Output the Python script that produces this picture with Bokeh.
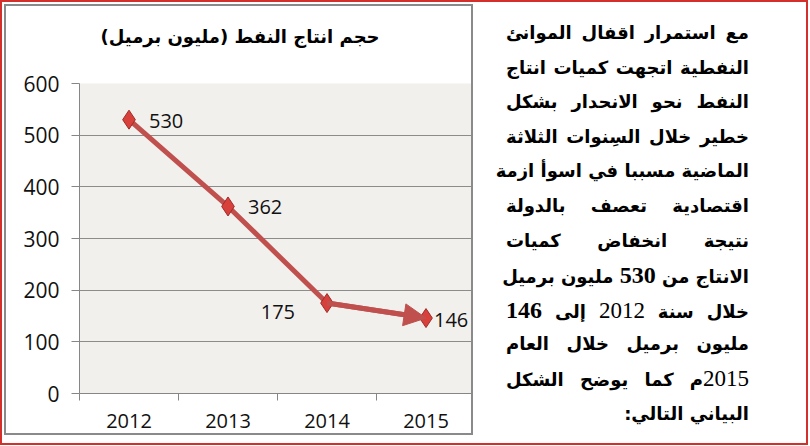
from bokeh.plotting import figure
from bokeh.models import (ColumnDataSource, FixedTicker, Arrow, NormalHead, Div, Range1d, Title)
from bokeh.layouts import row
from bokeh.embed import file_html
from bokeh.resources import INLINE
from bokeh.core.properties import value

# ---------------- data ----------------
years = ["2012", "2013", "2014", "2015"]
production = [530, 362, 175, 146]
y_ticks = [0, 100, 200, 300, 400, 500, 600]
title_text = "حجم انتاج النفط (مليون برميل)"

# label placement (style only)
label_dx = [20, 20, -32, 8]
label_dy = [1, 1, 9, 2]
label_align = ["left", "left", "right", "left"]

LINE_RED = "#c0504d"

xs = [i + 0.5 for i in range(len(years))]
src = ColumnDataSource(dict(
    x=xs, y=production, lab=[str(v) for v in production],
    dx=label_dx, dy=label_dy, al=label_align))

p = figure(width=469, height=431,
           x_range=Range1d(0, len(years)), y_range=Range1d(y_ticks[0], y_ticks[-1]),
           output_backend="svg", toolbar_location=None,
           min_border_left=73, min_border_right=0, min_border_top=77, min_border_bottom=44,
           background_fill_color="#f2f0ed", border_fill_color="white",
           outline_line_color=None,
           styles={"border": "2px solid #8a8a8a"})
p.margin = (4, 0, 0, 4)

# real title, plus a blank (white) spacer title between it and the frame
p.title.text = title_text
p.title.align = "left"
p.title.offset = 21
p.title.text_font = "DejaVu Sans"
p.title.text_font_style = "bold"
p.title.text_font_size = "18px"
p.title.text_color = "#000000"
p.add_layout(Title(text=".", text_color="white", text_font_size="29px"), "above")

# y axis
p.yaxis.ticker = FixedTicker(ticks=y_ticks)
p.yaxis.axis_line_color = "#868686"
p.yaxis.major_tick_line_color = "#868686"
p.yaxis.major_tick_out = 8
p.yaxis.major_tick_in = 0
p.yaxis.minor_tick_line_color = None
p.yaxis.major_label_text_font = "Open Sans"
p.yaxis.major_label_text_font_size = "21px"
p.yaxis.major_label_text_color = "#111111"
p.yaxis.major_label_standoff = 12

# x axis: labels at category centres, ticks at category boundaries
p.xaxis.ticker = FixedTicker(ticks=xs, minor_ticks=list(range(len(years) + 1)))
p.xaxis.major_label_overrides = {x: y for x, y in zip(xs, years)}
p.xaxis.axis_line_color = "#868686"
p.xaxis.major_tick_line_color = None
p.xaxis.major_tick_out = 0
p.xaxis.major_tick_in = 0
p.xaxis.minor_tick_line_color = "#868686"
p.xaxis.minor_tick_out = 7
p.xaxis.minor_tick_in = 0
p.xaxis.major_label_text_font = "Open Sans"
p.xaxis.major_label_text_font_size = "20px"
p.xaxis.major_label_text_color = "#111111"
p.xaxis.major_label_standoff = 13

p.xgrid.grid_line_color = None
p.ygrid.ticker = FixedTicker(ticks=y_ticks)
p.ygrid.grid_line_color = "#8c8c8c"
p.ygrid.grid_line_width = 1

p.line("x", "y", source=src, line_color=LINE_RED, line_width=5)
p.add_layout(Arrow(end=NormalHead(size=22, fill_color=LINE_RED, line_color=LINE_RED),
                   x_start=xs[-2], y_start=production[-2],
                   x_end=xs[-1], y_end=production[-1],
                   line_color=LINE_RED, line_width=5))
p.scatter("x", "y", source=src, marker="diamond", size=19,
          fill_color="#d8403c", line_color="#9e2b28", line_width=1)
p.text("x", "y", text="lab", source=src, x_offset="dx", y_offset="dy",
       text_align="al", text_baseline="middle",
       text_font=value("Open Sans"), text_font_size="20px", text_color="#111111")

# ---------------- paragraph ----------------
num_b = '<span style="font-family:\'Liberation Serif\';font-weight:bold;font-size:24px">{}</span>'
num_r = '<span style="font-family:\'Liberation Serif\';font-weight:normal;font-size:23px">{}</span>'

paragraph_lines = [
    "مع استمرار اقفال الموانئ",
    "النفطية اتجهت كميات انتاج",
    "النفط نحو الانحدار بشكل",
    "خطير خلال السِنوات الثلاثة",
    "الماضية مسببا في اسوأ ازمة",
    "اقتصادية تعصف بالدولة",
    "نتيجة انخفاض كميات",
    "الانتاج من " + num_b.format(production[0]) + " مليون برميل",
    "خلال سنة " + num_r.format(years[0]) + " إلى " + num_b.format(production[-1]),
    "مليون برميل خلال العام",
    num_r.format(years[-1]) + "م كما يوضح الشكل",
    "البياني التالي:",
]

line_html = []
for i, ln in enumerate(paragraph_lines):
    last = i == len(paragraph_lines) - 1
    al = "text-align:right;" if last else "text-align:justify;text-align-last:justify;"
    line_html.append('<div style="%swhite-space:nowrap;height:34.6px;">%s</div>' % (al, ln))

frame_html = ('<div style="position:fixed;left:0;top:0;width:808px;height:445px;'
              'box-sizing:border-box;border:2px solid #d4302b;pointer-events:none;z-index:10;"></div>')

html = (frame_html +
        '<div dir="rtl" style="font-family:\'DejaVu Sans\';font-weight:bold;font-size:18px;'
        'line-height:34.6px;color:#000;padding:11px 17px 0 28px;width:288px;">'
        + "".join(line_html) + '</div>')

d = Div(text=html, width=333, height=441)

layout = row(p, d)

open("out.html", "w").write(file_html(layout, INLINE))
